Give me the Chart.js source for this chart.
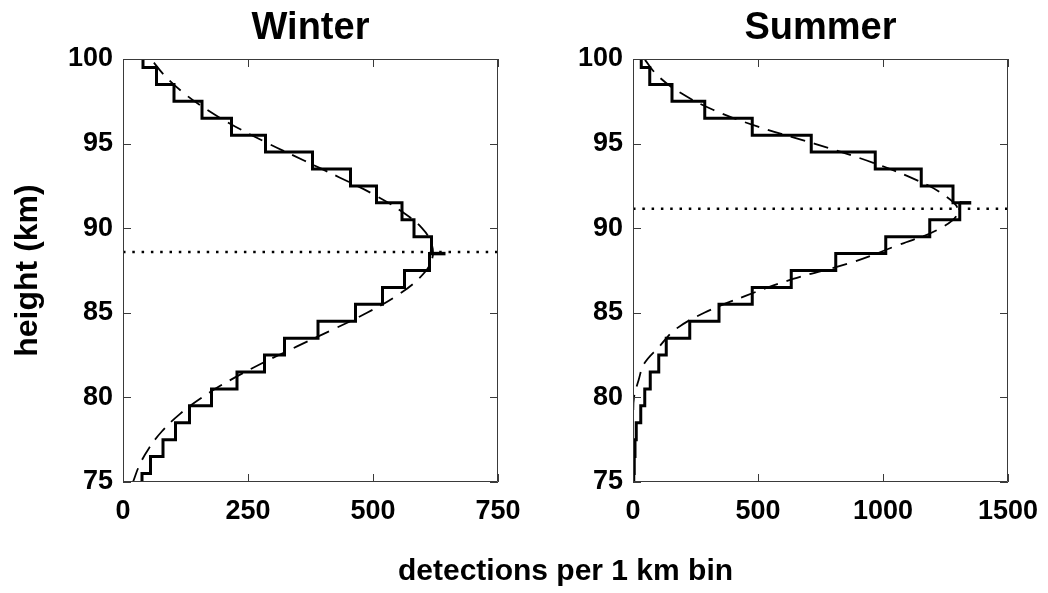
<!DOCTYPE html>
<html>
<head>
<meta charset="utf-8">
<script src="https://cdn.jsdelivr.net/npm/chart.js@4.4.0/dist/chart.umd.min.js"></script>
<style>
  html, body { margin: 0; padding: 0; background: #fff; }
  #wrap { position: relative; width: 1048px; height: 593px; overflow: hidden; }
  canvas { position: absolute; top: 0; }
  #winter { left: 0; }
  #summer { left: 524px; }
  #xtitle {
    position: absolute; left: 123px; width: 885px; top: 553px;
    text-align: center; color: #000; line-height: 36px;
    font: bold 30px "Liberation Sans", Arial, sans-serif;
  }
</style>
</head>
<body>
<div id="wrap">
  <canvas id="winter" width="524" height="593"></canvas>
  <canvas id="summer" width="524" height="593"></canvas>
  <div id="xtitle">detections per 1 km bin</div>
</div>
<script>
// 1 km bins, centre heights
const heights = [75, 76, 77, 78, 79, 80, 81, 82, 83, 84, 85, 86, 87,
                 88, 89, 90, 91, 92, 93, 94, 95, 96, 97, 98, 99, 100];

const winterCounts = [38, 55, 80, 105, 133, 177, 228, 283, 323, 390, 465, 519, 563,
                      613, 617, 582, 558, 507, 455, 379, 285, 217, 158, 102, 67, 40];
const summerCounts = [3, 5, 8, 13, 31, 47, 69, 103, 133, 227, 344, 477, 633,
                      811, 1011, 1187, 1307, 1280, 1153, 969, 713, 477, 287, 156, 67, 33];

// dashed fitted profiles, read at the same heights
const winterFit = [20, 33, 52, 78, 113, 158, 213, 277, 347, 419, 488, 547, 591,
                   616, 618, 598, 557, 501, 433, 362, 291, 225, 168, 121, 84, 56];
const summerFit = [0, 0, 0, 0, 1, 4, 22, 45, 105, 168, 285, 450, 640,
                   880, 1060, 1230, 1300, 1240, 1110, 935, 725, 500, 320, 190, 100, 45];

// dotted peak heights
const winterPeak = 88.6;
const summerPeak = 91.15;

// short extra segment at the peak bin edge
const winterStub = [613, 645];
const winterStubHeight = 88.5;
const summerStub = [1307, 1353];
const summerStubHeight = 91.5;

const winterTicksX = [0, 250, 500, 750];
const summerTicksX = [0, 500, 1000, 1500];
const heightTicks = [75, 80, 85, 90, 95, 100];

const FONT = '"Liberation Sans", Arial, sans-serif';

// box frame with inward ticks on all four sides
const frameTicks = {
  id: 'frameTicks',
  afterDatasetsDraw(chart) {
    const { ctx, chartArea: a, scales: { x, y } } = chart;
    const len = 8;
    ctx.save();
    ctx.strokeStyle = '#3a3a3a';
    ctx.lineWidth = 1;
    ctx.beginPath();
    ctx.rect(Math.round(a.left) + 0.5, Math.round(a.top) + 0.5,
             Math.round(a.width) - 1, Math.round(a.height) - 1);
    x.ticks.forEach(t => {
      const px = Math.round(x.getPixelForValue(t.value)) + 0.5;
      ctx.moveTo(px, a.bottom); ctx.lineTo(px, a.bottom - len);
      ctx.moveTo(px, a.top); ctx.lineTo(px, a.top + len);
    });
    y.ticks.forEach(t => {
      const py = Math.round(y.getPixelForValue(t.value)) + 0.5;
      ctx.moveTo(a.left, py); ctx.lineTo(a.left + len, py);
      ctx.moveTo(a.right, py); ctx.lineTo(a.right - len, py);
    });
    ctx.stroke();
    ctx.restore();
  }
};

function panel(id, title, counts, fit, peak, stub, stubHeight, xTicks, yWidth, rightPad, showYTitle) {
  const xMax = xTicks[xTicks.length - 1];
  const steps = [];
  heights.forEach((h, i) => {
    steps.push({ x: counts[i], y: h - 0.5 }, { x: counts[i], y: h + 0.5 });
  });
  const line = { showLine: true, pointRadius: 0, borderColor: '#000', backgroundColor: '#000' };
  const tickFont = { family: FONT, size: 27, weight: 'bold' };

  return new Chart(document.getElementById(id), {
    type: 'scatter',
    data: {
      datasets: [
        { ...line, data: steps, borderWidth: 3, borderJoinStyle: 'miter' },
        { ...line, data: stub.map(v => ({ x: v, y: stubHeight })), borderWidth: 3.5 },
        { ...line, data: heights.map((h, i) => ({ x: fit[i], y: h })),
          borderWidth: 1.8, borderDash: [15, 9], tension: 0.4 },
        { ...line, data: [{ x: xTicks[0], y: peak }, { x: xMax, y: peak }],
          borderWidth: 2.5, borderDash: [2.5, 6.8] }
      ]
    },
    options: {
      responsive: false,
      animation: false,
      events: [],
      layout: { padding: { left: 0, right: rightPad, top: 0, bottom: 0 } },
      plugins: {
        legend: { display: false },
        tooltip: { enabled: false },
        title: {
          display: true, text: title, color: '#000', fullSize: false,
          font: { family: FONT, size: 38, weight: 'bold' },
          padding: { top: 6, bottom: 7.4 }
        }
      },
      scales: {
        x: {
          type: 'linear', min: 0, max: xMax,
          afterBuildTicks: s => { s.ticks = xTicks.map(v => ({ value: v })); },
          afterFit: s => { s.height = 111; s.paddingLeft = 0; s.paddingRight = 0; },
          grid: { display: false, drawTicks: false },
          border: { display: false },
          ticks: {
            font: tickFont, color: '#000', padding: 13.5, maxRotation: 0, autoSkip: false,
            callback: v => String(v)
          }
        },
        y: {
          type: 'linear', min: 75, max: 100,
          afterBuildTicks: s => { s.ticks = heightTicks.map(v => ({ value: v })); },
          afterFit: s => { s.width = yWidth; },
          grid: { display: false, drawTicks: false },
          border: { display: false },
          ticks: { font: tickFont, color: '#000', padding: 10, autoSkip: false, callback: v => String(v) },
          title: {
            display: showYTitle, text: 'height (km)', color: '#000',
            font: { family: FONT, size: 32, weight: 'bold' },
            padding: { top: 9, bottom: 0 }
          }
        }
      }
    },
    plugins: [frameTicks]
  });
}

panel('winter', 'Winter', winterCounts, winterFit, winterPeak, winterStub, winterStubHeight,
      winterTicksX, 123, 26, true);
panel('summer', 'Summer', summerCounts, summerFit, summerPeak, summerStub, summerStubHeight,
      summerTicksX, 109, 40, false);
</script>
</body>
</html>
